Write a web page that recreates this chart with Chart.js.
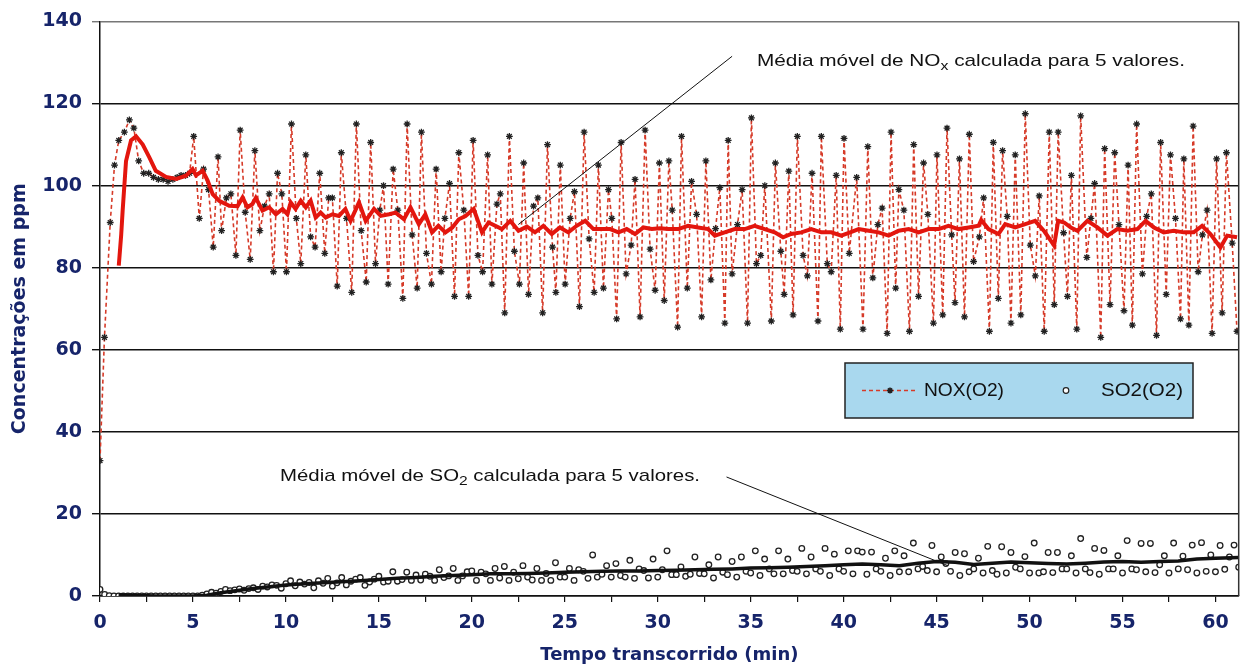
<!DOCTYPE html>
<html lang="pt">
<head>
<meta charset="utf-8">
<title>Concentrações de NOx e SO2</title>
<script src="https://cdn.jsdelivr.net/npm/chart.js@4.4.1/dist/chart.umd.min.js"></script>
<style>
    html, body { margin: 0; padding: 0; background: #fff; }
    #wrap { width: 1244px; height: 666px; position: relative; }
</style>
</head>
<body>
<div id="wrap"><canvas id="grafico"></canvas></div>
<script>
// NOX(O2) readings (min, ppm)
const noxTempo = [
    0, 0.24, 0.55, 0.78, 1.01, 1.31, 1.58, 1.82, 2.08, 2.35, 2.62, 2.88, 3.14, 3.4, 3.66, 3.92, 4.15, 4.36, 4.6, 4.82,
    5.04, 5.34, 5.57, 5.84, 6.09, 6.35, 6.54, 6.8, 7.04, 7.31, 7.54, 7.81, 8.08, 8.33, 8.6, 8.85, 9.1, 9.33, 9.55, 9.78,
    10.03, 10.3, 10.56, 10.8, 11.07, 11.33, 11.57, 11.82, 12.09, 12.3, 12.5, 12.76, 12.98, 13.26, 13.54, 13.79, 14.05, 14.32, 14.56, 14.82,
    15.05, 15.25, 15.5, 15.77, 16.02, 16.29, 16.52, 16.79, 17.06, 17.29, 17.56, 17.83, 18.08, 18.35, 18.55, 18.8, 19.07, 19.3, 19.57, 19.83,
    20.07, 20.33, 20.58, 20.85, 21.08, 21.35, 21.53, 21.77, 22.02, 22.29, 22.56, 22.79, 23.05, 23.32, 23.55, 23.81, 24.07, 24.34, 24.52, 24.76,
    25.02, 25.29, 25.52, 25.79, 26.04, 26.31, 26.58, 26.81, 27.08, 27.35, 27.53, 27.79, 28.03, 28.3, 28.57, 28.78, 29.05, 29.32, 29.59, 29.86,
    30.09, 30.35, 30.6, 30.78, 31.07, 31.28, 31.59, 31.82, 32.09, 32.36, 32.59, 32.86, 33.11, 33.34, 33.61, 33.79, 34.0, 34.29, 34.54, 34.83,
    35.04, 35.31, 35.54, 35.76, 36.11, 36.33, 36.62, 36.8, 37.05, 37.28, 37.51, 37.82, 38.05, 38.3, 38.62, 38.8, 39.12, 39.33, 39.6, 39.82,
    40.02, 40.3, 40.7, 41.04, 41.3, 41.57, 41.84, 42.07, 42.34, 42.55, 42.8, 42.97, 43.24, 43.54, 43.77, 44.03, 44.3, 44.53, 44.83, 45.02,
    45.33, 45.56, 45.81, 45.99, 46.23, 46.5, 46.76, 46.99, 47.3, 47.53, 47.84, 48.05, 48.32, 48.55, 48.8, 49.0, 49.23, 49.53, 49.77, 50.04,
    50.31, 50.52, 50.79, 51.06, 51.33, 51.54, 51.83, 52.04, 52.25, 52.54, 52.75, 53.08, 53.3, 53.5, 53.83, 54.04, 54.33, 54.58, 54.81, 55.08,
    55.3, 55.53, 55.76, 56.07, 56.3, 56.55, 56.83, 57.05, 57.35, 57.58, 57.85, 58.12, 58.3, 58.57, 58.8, 59.07, 59.3, 59.55, 59.82, 60.06,
    60.36, 60.59, 60.9, 61.16
];
const noxValor = [
    33, 63, 91, 105, 111, 113, 116, 114, 106, 103, 103, 102, 101.5, 101.5, 101, 101.5, 102, 102.5, 102.5, 103,
    112, 92, 104, 99, 85, 107, 89, 97, 98, 83, 113.5, 93.5, 82, 108.5, 89, 95, 98, 79, 103, 98,
    79, 115, 92, 81, 107.5, 87.5, 85, 103, 83.5, 97, 97, 75.5, 108, 92, 74, 115, 89, 76.5, 110.5, 81,
    94, 100, 76, 104, 94, 72.5, 115, 88, 75, 113, 83.5, 76, 104, 79, 92, 100.5, 73, 108, 94, 73,
    111, 83, 79, 107.5, 76, 95.5, 98, 69, 112, 84, 76, 105.5, 73.5, 95, 97, 69, 110, 85, 74, 105,
    76, 92, 98.5, 70.5, 113, 87, 74, 105, 75, 99, 92, 67.5, 110.5, 78.5, 85.5, 101.5, 68, 113.5, 84.5, 74.5,
    105.5, 72, 106, 94, 65.5, 112, 75, 101, 93, 68, 106, 77, 89.5, 99.5, 66.5, 111, 78.5, 90.5, 99, 66.5,
    116.5, 81, 83, 100, 67, 105.5, 84, 73.5, 103.5, 68.5, 112, 83, 78, 103, 67, 112, 81, 79, 102.5, 65,
    111.5, 83.5, 102, 65, 109.5, 77.5, 90.5, 94.5, 64, 113, 75, 99, 94, 64.5, 110, 73, 105.5, 93, 66.5, 107.5,
    68.5, 114, 88, 71.5, 106.5, 68, 112.5, 81.5, 87.5, 97, 64.5, 110.5, 72.5, 108.5, 92.5, 66.5, 107.5, 68.5, 117.5, 85.5,
    78, 97.5, 64.5, 113, 71, 113, 88.5, 73, 102.5, 65, 117, 82.5, 92, 100.5, 63, 109, 71, 108, 90.5, 69.5,
    105, 66, 115, 78.5, 92.5, 98, 63.5, 110.5, 73.5, 107.5, 92, 67.5, 106.5, 66, 114.5, 79, 88, 94, 64, 106.5,
    69, 108, 86, 64.5
];

// Moving average of NOX over 5 values
const noxMediaTempo = [
    1.01, 1.14, 1.22, 1.4, 1.67, 1.94, 2.3, 2.66, 3.0, 3.55, 4.1, 4.63, 4.98, 5.16, 5.52, 5.79, 6.06, 6.41, 6.95, 7.4,
    7.67, 7.93, 8.2, 8.38, 8.74, 9.1, 9.46, 9.82, 10.08, 10.26, 10.52, 10.8, 11.07, 11.33, 11.6, 11.87, 12.14, 12.5, 12.85, 13.2,
    13.48, 13.93, 14.29, 14.74, 15.1, 15.55, 15.9, 16.35, 16.7, 17.15, 17.5, 17.86, 18.2, 18.58, 18.95, 19.3, 19.66, 20.1, 20.55, 20.9,
    21.26, 21.62, 22.07, 22.51, 22.96, 23.4, 23.85, 24.3, 24.74, 25.19, 25.64, 26.1, 26.54, 26.99, 27.44, 27.89, 28.33, 28.78, 29.23, 29.68,
    30.12, 30.56, 31.1, 31.63, 32.17, 32.71, 33.07, 33.6, 34.14, 34.68, 35.21, 35.75, 36.29, 36.74, 37.18, 37.72, 38.26, 38.8, 39.33, 39.87,
    40.35, 40.81, 41.35, 41.88, 42.42, 42.96, 43.5, 44.03, 44.57, 45.11, 45.64, 46.18, 46.72, 47.26, 47.4, 47.79, 48.33, 48.69, 49.23, 49.77,
    50.3, 50.8, 51.14, 51.32, 51.54, 51.86, 52.22, 52.58, 53.11, 53.65, 54.19, 54.72, 55.26, 55.8, 56.24, 56.69, 57.22, 57.76, 58.3, 58.83,
    59.28, 59.73, 60.27, 60.63, 61.16
];
const noxMedia = [
    80.5, 88, 94, 106, 111, 112, 110, 106.8, 103.6, 102.1, 101.6, 102.4, 104, 102.5, 103.6, 101.2, 97.9, 96.3, 95.1, 95,
    97.1, 94.7, 95.5, 97, 93.9, 94.7, 93, 94.3, 93, 95.9, 94.3, 96.3, 94.7, 96.3, 92.2, 93.4, 92.2, 93, 92.6, 94.3,
    91.4, 95.9, 91.4, 94.3, 92.6, 93, 93.4, 91.8, 94.7, 90.6, 93, 88.6, 90.2, 88.6, 89.8, 91.8, 92.6, 94.3, 88.6, 91,
    90.2, 89.4, 91.4, 89, 90, 88.6, 90.2, 88.2, 89.8, 88.6, 90.2, 91.4, 89.4, 89.4, 89.4, 88.6, 89.4, 88.2, 89.8, 89.4,
    89.6, 89.4, 89.4, 90.2, 89.8, 89.4, 87.8, 88.6, 89.4, 89.4, 90.2, 89.4, 88.6, 87.4, 88.2, 88.6, 89.4, 88.6, 88.6, 87.8,
    88.6, 89.4, 89, 88.6, 87.8, 89, 89.4, 88.6, 89.4, 89.4, 90.2, 89.4, 89.8, 90.2, 91.6, 89.4, 88.2, 90.6, 89.8, 90.6,
    91.4, 88.8, 86.6, 85.4, 91.4, 91, 89.8, 89, 91.4, 89.8, 87.8, 89.4, 89, 89.4, 91.4, 89.8, 88.6, 89, 88.6, 88.6,
    90.2, 88.2, 84.9, 87.8, 87.4
];

// SO2(O2) readings, one every 0.25 min (4 per group = 1 min)
const so2Passo = 0.25;
const so2Valor = [
    1.6, 0.4, 0.1, 0,    0, 0, 0, 0,          0, 0, 0, 0,          0, 0, 0, 0,
    0, 0, 0, 0,          0, 0, 0.2, 0.5,      0.9, 0.7, 1.1, 1.6,  1.3, 1.5, 1.7, 1.4,
    1.8, 2.0, 1.6, 2.4,  2.2, 2.7, 2.6, 1.9,  3.0, 3.7, 2.5, 3.4,  2.9, 3.3, 2.0, 3.7,
    3.1, 4.3, 2.4, 3.2,  4.5, 2.7, 3.6, 4.1,  4.5, 2.6, 3.4, 4.1,  4.8, 3.4, 3.6, 5.9,
    3.6, 4.0, 5.8, 3.8,  5.1, 3.9, 5.3, 4.8,  3.8, 6.4, 4.5, 4.9,  6.7, 3.8, 4.9, 5.9,
    6.1, 3.8, 5.8, 5.4,  3.8, 6.7, 4.4, 7.2,  3.8, 5.8, 4.2, 7.4,  4.6, 3.9, 6.7, 3.8,
    5.5, 3.8, 8.1, 4.6,  4.6, 6.7, 3.8, 6.4,  6.0, 4.3, 10.0, 4.6, 5.3, 7.4, 4.6, 7.9,
    5.0, 4.6, 8.7, 4.3,  6.6, 6.2, 4.4, 9.0,  4.6, 6.4, 11.0, 5.2, 5.2, 7.1, 4.8, 5.3,
    9.5, 5.5, 5.4, 7.6,  4.4, 9.5, 5.8, 5.2,  8.4, 4.6, 9.5, 6.0,  5.6, 11.0, 5.0, 9.0,
    6.6, 5.4, 11.0, 5.4, 9.0, 6.2, 6.0, 11.6, 5.4, 9.5, 6.6, 6.0,  11.6, 5.0, 10.2, 6.6,
    6.0, 11.0, 5.4, 11.0, 10.7, 5.3, 10.7, 6.6, 6.0, 9.2, 5.0, 11.0, 5.9, 9.8, 5.9, 12.9,
    6.6, 7.2, 6.2, 12.3, 5.9, 9.5, 7.9, 6.0,  10.6, 5.0, 10.3, 5.9, 6.6, 9.2, 5.6, 12.1,
    6.2, 5.3, 12.0, 5.6, 10.6, 7.0, 6.6, 9.6,  5.6, 12.9, 5.6, 5.9, 10.6, 5.7, 10.6, 6.6,
    6.6, 9.8, 5.6, 14.0, 6.6, 5.7, 11.6, 5.3, 11.1, 6.6, 6.6, 9.8, 5.6, 13.5, 6.6, 6.4,
    12.8, 5.9, 12.8, 5.7, 7.6, 9.8, 5.6, 12.9, 6.6, 9.7, 6.4, 12.4, 5.6, 13.0, 6.0, 10.0,
    5.9, 12.3, 6.5, 9.5,  12.4, 7.0
];

// Moving average of SO2 over 5 values
const so2MediaTempo = [
    1, 2, 3, 4, 5, 5.75, 6.5, 7, 8, 9, 10, 11, 12, 13, 14, 15, 16, 17, 18, 19, 20,
    21, 22, 23, 24, 25, 26, 27, 28, 29, 30, 31, 32, 33, 34, 35, 36, 37, 38, 39, 40,
    41, 42, 43, 44, 45, 46, 47, 48, 49, 50, 51, 52, 53, 54, 55, 56, 57, 58, 59, 60, 61.25
];
const so2Media = [
    0.3, 0.1, 0, 0, 0, 0.2, 0.8, 1.1, 1.7, 2.2, 2.7, 3.0, 3.2, 3.5, 3.7, 4.0, 4.3, 4.5, 4.8, 5.0, 5.2,
    5.4, 5.4, 5.5, 5.6, 5.8, 5.9, 6.0, 6.1, 6.1, 6.2, 6.3, 6.4, 6.5, 6.6, 6.8, 6.9, 7.0, 7.2, 7.4, 7.6,
    7.8, 7.6, 7.4, 8.0, 8.4, 8.2, 7.7, 8.0, 8.3, 8.1, 7.9, 7.8, 8.0, 8.3, 8.4, 8.2, 8.4, 8.5, 9.0, 9.2, 9.4
];

// Axis ticks
const yTicks = [0, 20, 40, 60, 80, 100, 120, 140];
const xMax = 61.25;

const navy = '#16246a';
const noxCor = '#d63a28';
const pairs = (xs, ys) => ys.map((y, i) => ({ x: xs[i], y }));

// Text drawn with a horizontal stretch so it fills the given width
function stretchedText(ctx, parts, px, py, width) {
    let total = 0;
    parts.forEach(p => { ctx.font = p.font; total += ctx.measureText(p.text).width; });
    const sx = width / total;
    ctx.save();
    ctx.translate(px, py);
    ctx.scale(sx, 1);
    let cx = 0;
    parts.forEach(p => {
        ctx.font = p.font;
        ctx.fillText(p.text, cx, p.dy || 0);
        cx += ctx.measureText(p.text).width;
    });
    ctx.restore();
}

function drawNote(ctx, gas, sub, px, py, width) {
    const big = '17px "Liberation Sans", Arial, sans-serif';
    const small = '13px "Liberation Sans", Arial, sans-serif';
    ctx.fillStyle = '#111';
    ctx.textBaseline = 'alphabetic';
    ctx.textAlign = 'left';
    stretchedText(ctx, [
        { text: 'Média móvel de ' + gas, font: big },
        { text: sub, font: small, dy: 4 },
        { text: ' calculada para 5 valores.', font: big }
    ], px, py, width);
}

// Notes, legend and right border of the plot area
const extras = {
    id: 'extras',
    afterDatasetsDraw(chart) {
        const { ctx, chartArea: area, scales: { x, y } } = chart;
        ctx.save();

        // right border
        ctx.strokeStyle = '#333';
        ctx.lineWidth = 1.5;
        ctx.beginPath();
        ctx.moveTo(area.right, area.top);
        ctx.lineTo(area.right, area.bottom);
        ctx.stroke();

        // leader lines of the two notes
        ctx.strokeStyle = '#111';
        ctx.lineWidth = 1;
        ctx.beginPath();
        ctx.moveTo(x.getPixelForValue(34.0), y.getPixelForValue(131.5));
        ctx.lineTo(x.getPixelForValue(22.5), y.getPixelForValue(90.5));
        ctx.moveTo(x.getPixelForValue(33.7), y.getPixelForValue(29));
        ctx.lineTo(x.getPixelForValue(45.6), y.getPixelForValue(7.4));
        ctx.stroke();

        drawNote(ctx, 'NO', 'x', 757, 66, 428);
        drawNote(ctx, 'SO', '2', 280, 481, 420);

        // legend box
        const lx = 845, ly = 363, lw = 348, lh = 55;
        ctx.fillStyle = '#a9d8ee';
        ctx.fillRect(lx, ly, lw, lh);
        ctx.strokeStyle = '#222';
        ctx.lineWidth = 1.5;
        ctx.strokeRect(lx, ly, lw, lh);

        const cy = ly + lh / 2;
        ctx.strokeStyle = noxCor;
        ctx.lineWidth = 1.5;
        ctx.setLineDash([4, 3]);
        ctx.beginPath();
        ctx.moveTo(862, cy);
        ctx.lineTo(918, cy);
        ctx.stroke();
        ctx.setLineDash([]);
        ctx.strokeStyle = '#222';
        Chart.helpers.drawPoint(ctx, { pointStyle: 'star', radius: 3, borderWidth: 1.2 }, 890, cy);

        ctx.fillStyle = '#fff';
        ctx.strokeStyle = '#222';
        ctx.lineWidth = 1.2;
        ctx.beginPath();
        ctx.arc(1066, cy, 2.8, 0, Math.PI * 2);
        ctx.fill();
        ctx.stroke();

        ctx.fillStyle = '#111';
        ctx.textBaseline = 'middle';
        ctx.textAlign = 'left';
        const legendFont = '18px "Liberation Sans", Arial, sans-serif';
        stretchedText(ctx, [{ text: 'NOX(O2)', font: legendFont }], 924, cy + 1, 80);
        stretchedText(ctx, [{ text: 'SO2(O2)', font: legendFont }], 1101, cy + 1, 82);

        ctx.restore();
    }
};

const tickFont = { family: '"DejaVu Sans", Verdana, sans-serif', weight: 'bold', size: 19 };

new Chart(document.getElementById('grafico'), {
    type: 'line',
    data: {
        datasets: [
            {
                label: 'Média NOX',
                data: pairs(noxMediaTempo, noxMedia),
                borderColor: '#e3160e',
                borderWidth: 4,
                pointRadius: 0,
                order: 1
            },
            {
                label: 'Média SO2',
                data: pairs(so2MediaTempo, so2Media),
                borderColor: '#111',
                borderWidth: 3.5,
                pointRadius: 0,
                order: 2
            },
            {
                label: 'SO2(O2)',
                data: so2Valor.map((v, i) => ({ x: i * so2Passo, y: v })),
                showLine: false,
                pointStyle: 'circle',
                pointRadius: 2.8,
                pointBorderWidth: 1.3,
                pointBorderColor: '#222',
                pointBackgroundColor: '#fff',
                order: 3
            },
            {
                label: 'NOX(O2)',
                data: pairs(noxTempo, noxValor),
                borderColor: noxCor,
                borderWidth: 1.6,
                borderDash: [4, 3],
                pointStyle: 'star',
                pointRadius: 3.4,
                pointBorderWidth: 1.3,
                pointBorderColor: '#222',
                order: 4
            }
        ]
    },
    options: {
        responsive: true,
        maintainAspectRatio: false,
        animation: false,
        devicePixelRatio: 1,
        layout: { padding: { top: 20, right: 2, left: 0, bottom: 0 } },
        plugins: {
            legend: { display: false },
            tooltip: { enabled: false }
        },
        scales: {
            x: {
                type: 'linear',
                min: 0,
                max: xMax,
                grid: { drawOnChartArea: false, drawTicks: true, tickLength: 6, color: '#111', lineWidth: 1.2 },
                border: { display: true, color: '#111', width: 1.5 },
                ticks: {
                    stepSize: 2.5,
                    includeBounds: false,
                    autoSkip: false,
                    maxRotation: 0,
                    padding: 10,
                    color: navy,
                    font: tickFont,
                    callback: v => (v % 5 === 0 ? v : '')
                },
                title: {
                    display: true,
                    text: 'Tempo transcorrido (min)',
                    color: navy,
                    font: { family: '"DejaVu Sans", Verdana, sans-serif', weight: 'bold', size: 18 },
                    padding: { top: 0, bottom: 0 }
                },
                afterFit: s => { s.height = 70; }
            },
            y: {
                min: 0,
                max: 140,
                afterBuildTicks: s => { s.ticks = yTicks.map(v => ({ value: v })); },
                grid: {
                    color: c => (c.tick && c.tick.value === 140 ? '#777' : '#111'),
                    lineWidth: 1.4,
                    tickLength: 8
                },
                border: { display: true, color: '#111', width: 1.5 },
                ticks: { padding: 10, color: navy, font: tickFont },
                title: {
                    display: true,
                    text: 'Concentrações em ppm',
                    color: navy,
                    font: { family: '"DejaVu Sans", Verdana, sans-serif', weight: 'bold', size: 19 },
                    padding: { top: 9, bottom: 0 }
                },
                afterFit: s => { s.width = 100; }
            }
        }
    },
    plugins: [extras]
});
</script>
</body>
</html>
